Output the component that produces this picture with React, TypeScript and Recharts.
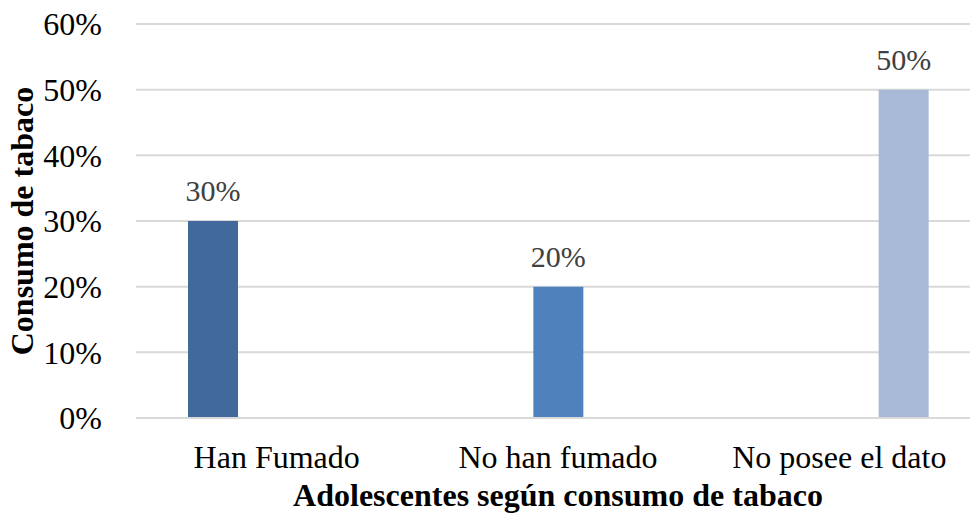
import { BarChart, Bar, XAxis, YAxis, CartesianGrid, LabelList, Label } from 'recharts';

const categories = ['Han Fumado', 'No han fumado', 'No posee el dato'];
const hanFumado = [30, null, null];
const noHanFumado = [null, 20, null];
const noPosee = [null, null, 50];
const yTicks = [0, 10, 20, 30, 40, 50, 60];

const data = categories.map((name, i) => ({
  name,
  s1: hanFumado[i],
  s2: noHanFumado[i],
  s3: noPosee[i],
}));

const FONT = '"Liberation Serif", "Times New Roman", serif';
const pct = (v: any) => (v == null ? '' : `${v}%`);

export default function App() {
  return (
    <div style={{ position: 'absolute', left: 0, top: 0, width: 970, height: 514, overflow: 'hidden', background: '#fff' }}>
      <BarChart
        width={1000}
        height={514}
        data={data}
        margin={{ top: 24, right: 20, left: 0, bottom: 0 }}
        barSize={50}
        barGap={14}
        style={{ fontFamily: FONT }}
      >
        <CartesianGrid vertical={false} stroke="#d9d9d9" strokeWidth={2} />
        <XAxis
          dataKey="name"
          height={96}
          tickLine={false}
          axisLine={{ stroke: '#d9d9d9', strokeWidth: 2 }}
          tickMargin={21}
          tick={{ fill: '#000', fontSize: 32, fontFamily: FONT }}
        >
          <Label
            content={({ viewBox }: any) => (
              <text
                x={viewBox.x + viewBox.width / 2}
                y={viewBox.y + 77}
                textAnchor="middle"
                dominantBaseline="central"
                fontSize={32}
                fontWeight="bold"
                fontFamily={FONT}
                fill="#000"
              >
                Adolescentes según consumo de tabaco
              </text>
            )}
          />
        </XAxis>
        <YAxis
          width={136}
          domain={[0, 60]}
          ticks={yTicks}
          tickFormatter={pct}
          tickLine={false}
          axisLine={false}
          tickMargin={28}
          tick={{ fill: '#000', fontSize: 32, fontFamily: FONT }}
        >
          <Label
            content={({ viewBox }: any) => {
              const cy = viewBox.y + viewBox.height / 2;
              return (
                <text
                  x={22}
                  y={cy}
                  transform={`rotate(-90, 22, ${cy})`}
                  textAnchor="middle"
                  dominantBaseline="central"
                  fontSize={32}
                  fontWeight="bold"
                  fontFamily={FONT}
                  fill="#000"
                >
                  Consumo de tabaco
                </text>
              );
            }}
          />
        </YAxis>
        <Bar dataKey="s1" fill="#41699b" isAnimationActive={false}>
          <LabelList dataKey="s1" position="top" offset={20} formatter={pct} fill="#404040" fontSize={30} fontFamily={FONT} />
        </Bar>
        <Bar dataKey="s2" fill="#4f81bd" isAnimationActive={false}>
          <LabelList dataKey="s2" position="top" offset={20} formatter={pct} fill="#404040" fontSize={30} fontFamily={FONT} />
        </Bar>
        <Bar dataKey="s3" fill="#a9bad8" isAnimationActive={false}>
          <LabelList dataKey="s3" position="top" offset={20} formatter={pct} fill="#404040" fontSize={30} fontFamily={FONT} />
        </Bar>
      </BarChart>
    </div>
  );
}
